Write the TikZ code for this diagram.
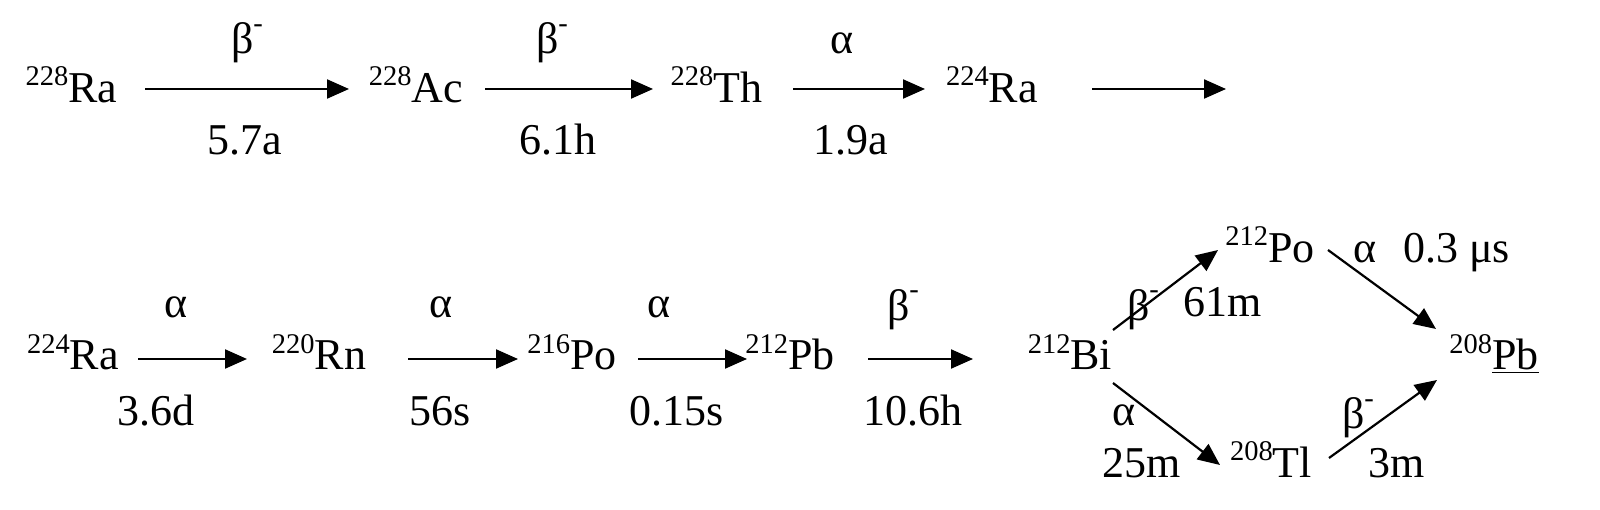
\documentclass[tikz,border=0pt]{standalone}
\usepackage{fontspec}
\setmainfont{Liberation Serif}
\usetikzlibrary{arrows.meta,calc}
\newcommand\nucsup[2]{\raisebox{17pt}{\fontsize{28.5}{32}\selectfont #1}#2}
\newcommand\bmin{β\raisebox{21pt}{\fontsize{28.5}{32}\selectfont -}}
\begin{document}
\begin{tikzpicture}[x=1pt,y=-1pt,
  txt/.style={inner sep=0pt, anchor=base, font=\fontsize{44}{50}\selectfont},
  arr/.style={line width=2.2pt, -{Triangle[length=22pt,width=19pt]}}]
\useasboundingbox[fill=white] (0,0) rectangle (1600,510);
% row 1 nuclides
\node[txt] (ra228) at (71.5,103) {\nucsup{228}{Ra}};
\node[txt] (ac228) at (416,103) {\nucsup{228}{Ac}};
\node[txt] (th228) at (716.5,103) {\nucsup{228}{Th}};
\node[txt] (ra224a) at (992,103) {\nucsup{224}{Ra}};
\coordinate (r1end) at ($(ra224a.base)+(234,-14)$);
% row 1 arrows
\draw[arr] ($(ra228.base)+(73.5,-14)$) -- ($(ac228.base)+(-67,-14)$);
\draw[arr] ($(ac228.base)+(69,-14)$) -- ($(th228.base)+(-63.5,-14)$);
\draw[arr] ($(th228.base)+(76.5,-14)$) -- ($(ra224a.base)+(-67,-14)$);
\draw[arr] ($(ra224a.base)+(100,-14)$) -- (r1end);
% row 1 labels
\node[txt] (l1a) at (247,54) {\bmin};
\node[txt] (l1b) at (245,155) {5.7a};
\node[txt] (l2a) at (552,54) {\bmin};
\node[txt] (l2b) at (558,155) {6.1h};
\node[txt] (l3a) at (842,54) {α};
\node[txt] (l3b) at (851,155) {1.9a};
% row 2 nuclides
\node[txt] (ra224b) at (73,370) {\nucsup{224}{Ra}};
\node[txt] (rn220) at (319,370) {\nucsup{220}{Rn}};
\node[txt] (po216) at (572,370) {\nucsup{216}{Po}};
\node[txt] (pb212) at (790,370) {\nucsup{212}{Pb}};
\node[txt] (bi212) at (1070,370) {\nucsup{212}{Bi}};
\node[txt] (po212) at (1270,263) {\nucsup{212}{Po}};
\node[txt] (tl208) at (1271,477) {\nucsup{208}{Tl}};
\node[txt] (pb208) at (1494,370) {\nucsup{208}{\underline{Pb}}};
% row 2 arrows
\draw[arr] ($(ra224b.base)+(65,-11)$) -- ($(rn220.base)+(-72,-11)$);
\draw[arr] ($(rn220.base)+(89,-11)$) -- ($(po216.base)+(-54,-11)$);
\draw[arr] ($(po216.base)+(66,-11)$) -- ($(pb212.base)+(-43,-11)$);
\draw[arr] ($(pb212.base)+(78,-11)$) -- ($(bi212.base)+(-97,-11)$);
% branch arrows
\draw[arr] ($(bi212.base)+(43,-40)$) -- ($(po212.base)+(-52,-13)$);
\draw[arr] ($(po212.base)+(58,-13)$) -- ($(pb208.base)+(-58,-41)$);
\draw[arr] ($(bi212.base)+(43,13)$) -- ($(tl208.base)+(-51,-12)$);
\draw[arr] ($(tl208.base)+(58,-19)$) -- ($(pb208.base)+(-57,10)$);
% row 2 labels
\node[txt] (m1a) at (176,318) {α};
\node[txt] (m1b) at (156,425) {3.6d};
\node[txt] (m2a) at (441,318) {α};
\node[txt] (m2b) at (440,425) {56s};
\node[txt] (m3a) at (659,318) {α};
\node[txt] (m3b) at (677,425) {0.15s};
\node[txt] (m4a) at (903,320) {\bmin};
\node[txt] (m4b) at (913,425) {10.6h};
% branch labels
\node[txt] (b1a) at (1143,320) {\bmin};
\node[txt] (b1b) at (1223,317) {61m};
\node[txt] (b2a) at (1365,263) {α};
\node[txt] (b2b) at (1456.5,263) {0.3 μs};
\node[txt] (b3a) at (1124,425) {α};
\node[txt] (b3b) at (1142,477) {25m};
\node[txt] (b4a) at (1358,428) {\bmin};
\node[txt] (b4b) at (1397,477) {3m};
\end{tikzpicture}
\end{document}
